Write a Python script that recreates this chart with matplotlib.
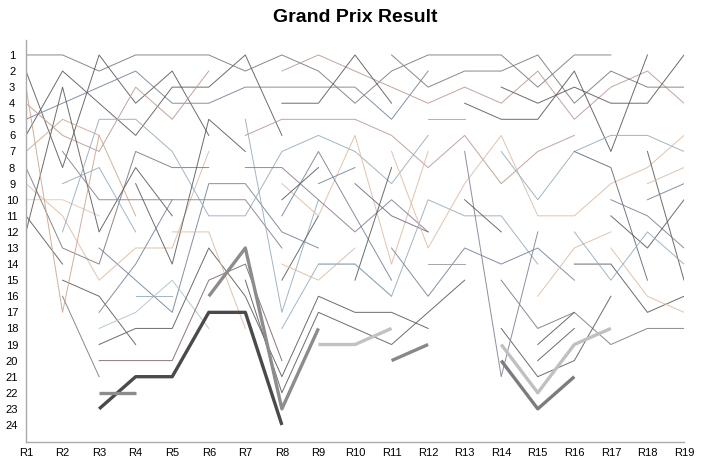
import matplotlib.pyplot as plt
import numpy as np

N = None

races = ['R1', 'R2', 'R3', 'R4', 'R5', 'R6', 'R7', 'R8', 'R9', 'R10',
         'R11', 'R12', 'R13', 'R14', 'R15', 'R16', 'R17', 'R18', 'R19']
ranks = list(range(1, 25))

# finishing position per race, None = did not take part
d01 = [1, 1, 2, 1, 1, 1, 2, 1, 2, 4, 2, 1, 1, 1, 3, 1, 1, N, N]
d02 = [2, 8, 1, 4, 2, 6, N, N, N, N, N, N, N, N, N, N, N, N, N]
d03 = [5, 4, 3, 2, 4, 4, 3, 3, 3, 3, 5, 2, N, N, N, N, N, N, N]
d04 = [6, 2, 4, 6, 3, 3, 1, 6, N, N, N, N, N, N, N, N, N, N, N]
d05 = [4, 6, 7, 3, 5, 2, N, 2, 1, 2, 3, 4, 3, 4, 2, 5, 3, 2, 4]
d06 = [N, N, N, N, N, N, N, 4, 4, 1, 4, N, N, N, N, N, N, N, N]
d07 = [N, N, N, N, N, N, N, N, N, N, 1, 3, 2, 2, 1, 4, 2, 3, 3]
d08 = [N, N, N, N, N, N, N, N, N, N, N, N, 4, 5, 5, 2, 7, 1, N]
d09 = [N, N, N, N, N, N, N, N, N, N, N, N, N, 3, 4, 3, 4, 4, 1]
d10 = [N, N, N, N, N, N, 6, 5, 5, 5, 6, 8, 6, 9, 7, 6, N, N, N]
d11 = [N, N, 13, 15, 17, 9, 9, 12, 13, N, N, N, N, N, N, N, N, N, N]
d12 = [7, 5, 6, 11, N, N, N, N, N, N, N, N, N, N, N, N, N, N, N]
d13 = [9, 11, 15, 13, 13, 7, N, N, N, N, N, N, N, N, N, N, N, N, N]
d14 = [10, 10, 11, N, N, N, N, N, N, N, N, N, N, N, N, N, N, N, N]
d15 = [11, 14, N, N, N, N, N, N, N, N, N, N, N, N, N, N, N, N, N]
d16 = [8, 13, 14, 7, 8, 8, N, N, N, N, N, N, N, N, N, N, N, N, N]
d17 = [12, 3, 12, 8, 11, N, N, N, N, N, N, N, N, N, N, N, N, N, N]
d18 = [N, 12, 5, 5, 7, 11, 11, 7, 6, 7, 9, 6, N, N, N, N, N, N, N]
d19 = [N, 9, 8, 12, N, N, N, N, N, N, N, N, N, N, N, N, N, N, N]
d20 = [N, 7, 10, 10, 10, 10, 10, 13, N, N, N, N, N, N, N, N, N, N, N]
d21 = [N, N, N, 9, 14, 5, 7, N, N, N, N, N, N, N, N, N, N, N, N]
d22 = [N, 15, 16, 19, N, N, N, N, N, N, N, N, N, N, N, N, N, N, N]
d23 = [N, 16, 21, N, N, N, N, N, N, N, N, N, N, N, N, N, N, N, N]
d24 = [3, 17, 6, N, N, N, N, N, N, N, N, N, N, N, N, N, N, N, N]
d26 = [N, N, 17, 14, 10, N, N, N, N, N, N, N, N, N, N, N, N, N, N]
d27 = [N, N, 18, 17, 15, 18, N, N, N, N, N, N, N, N, N, N, N, N, N]
d28 = [N, N, 19, 18, 18, 13, 16, 21, 16, 17, 17, 18, N, N, N, N, N, N, N]
d29 = [N, N, 20, 20, 20, 15, 14, 20, N, N, N, N, N, N, N, N, N, N, N]
d31 = [N, N, N, 16, 16, N, N, N, N, N, N, N, N, N, N, N, N, N, N]
d32 = [N, N, N, N, 12, 12, 18, N, N, N, N, N, N, N, N, N, N, N, N]
d34 = [N, N, N, N, N, N, 15, 22, 17, 18, 19, 17, 15, N, N, N, N, N, N]
d35 = [N, N, N, N, N, N, N, 18, 14, 14, 16, N, N, N, N, N, N, N, N]
d36 = [N, N, N, N, N, N, 5, 17, 10, N, N, N, N, N, N, N, N, N, N]
d37 = [N, N, N, N, N, N, N, 15, 11, N, N, N, N, N, N, N, N, N, N]
d38 = [N, N, N, N, N, N, N, 14, 15, 13, N, N, N, N, N, N, N, N, N]
e01 = [N, N, N, N, N, N, N, 9, 11, 6, 14, 7, N, N, N, N, N, N, N]
e02 = [N, N, N, N, N, N, N, 11, 7, 11, 15, N, N, N, N, N, N, N, N]
e04 = [N, N, N, N, N, N, 8, 8, 10, 12, 10, 12, N, N, N, N, N, N, N]
e05 = [N, N, N, N, N, N, N, N, N, 9, 11, 12, N, N, N, N, N, N, N]
e06 = [N, N, N, N, N, N, N, N, N, 15, 8, N, N, N, N, N, N, N, N]
e07 = [N, N, N, N, N, N, N, N, 14, 14, 16, 10, 11, 11, 14, N, N, N, N]
e08 = [N, N, N, N, N, N, N, N, N, N, 13, 16, 13, 14, 13, 15, N, N, N]
e09 = [N, N, N, N, N, N, N, N, N, N, 7, 13, 9, 6, 11, 11, 9, 8, 6]
e10 = [N, N, N, N, N, N, N, N, N, N, N, N, N, 7, 10, 7, 6, 6, 7]
e11 = [N, N, N, N, N, N, N, N, N, N, N, N, N, N, N, 7, 8, 15, N]
e12 = [N, N, N, N, N, N, N, N, N, N, N, N, N, N, N, N, N, 7, 15]
e13 = [N, N, N, N, N, N, N, N, N, N, N, N, N, N, N, N, N, 9, 8]
e14 = [N, N, N, N, N, N, N, N, N, N, N, N, N, N, N, N, N, 10, 9]
e15 = [N, N, N, N, N, N, N, N, N, N, N, N, N, N, N, N, 10, 11, 13]
e16 = [N, N, N, N, N, N, N, N, N, N, N, N, N, N, N, N, 11, 13, 10]
e17 = [N, N, N, N, N, N, N, N, N, N, N, N, N, N, 16, 13, 12, N, N]
e18 = [N, N, N, N, N, N, N, N, N, N, N, N, N, N, N, 14, 14, 17, 16]
e19 = [N, N, N, N, N, N, N, N, N, N, N, N, N, 15, 18, 17, 19, 18, 18]
e20 = [N, N, N, N, N, N, N, N, N, N, N, N, N, 18, 21, 20, 16, N, N]
e21 = [N, N, N, N, N, N, N, N, N, N, N, N, N, N, 19, 17, N, N, N]
e22 = [N, N, N, N, N, N, N, N, N, N, N, N, N, N, 20, 18, N, N, N]
e23 = [N, N, N, N, N, N, N, N, N, N, N, N, 7, 21, 12, N, N, N, N]
e25 = [N, N, N, N, N, N, N, N, N, N, N, N, N, N, N, N, 13, 16, 17]
e26 = [N, N, N, N, N, N, N, N, N, N, N, N, N, N, N, 12, 15, 12, 14]
e27 = [N, N, N, N, N, N, N, N, N, N, N, 5, 5, N, N, N, N, N, N]
e28 = [N, N, N, N, N, N, N, N, N, N, N, 14, 14, N, N, N, N, N, N]
e29 = [N, N, N, N, N, N, N, N, N, N, N, N, 10, 12, N, N, N, N, N]
e30 = [N, N, N, N, N, N, N, N, 9, 8, N, N, N, N, N, N, N, N, N]
e31 = [N, N, N, N, N, N, N, 10, 8, N, N, N, N, N, N, N, N, N, N]

# highlighted (thick) drivers
t1 = [N, N, 23, 21, 21, 17, 17, 24, N, N, N, N, N, N, N, N, N, N, N]
t2 = [N, N, 22, 22, N, N, N, N, N, N, N, N, N, N, N, N, N, N, N]
t3 = [N, N, N, N, N, 16, 13, 23, 18, N, N, N, N, N, N, N, N, N, N]
t4 = [N, N, N, N, N, N, N, N, 19, 19, 18, N, N, N, N, N, N, N, N]
t5 = [N, N, N, N, N, N, N, N, N, N, 20, 19, N, N, N, N, N, N, N]
t6 = [N, N, N, N, N, N, N, N, N, N, N, N, N, 19, 22, 19, 18, N, N]
t7 = [N, N, N, N, N, N, N, N, N, N, N, N, N, 20, 23, 21, N, N, N]

dark = '#5c5c5c'
grey = '#7c7c7c'
brown = '#bc9a92'
tan = '#ddbca4'
blue = '#96adbd'
slate = '#75849a'
purple = '#8a7c96'

thin = [
    (d01, grey), (d02, dark), (d03, slate), (d04, dark), (d05, brown),
    (d06, dark), (d07, grey), (d08, dark), (d09, dark), (d10, brown),
    (d11, slate), (d12, '#d2a696'), (d13, tan), (d14, '#e4c8b2'), (d15, dark),
    (d16, grey), (d17, dark), (d18, blue), (d19, blue), (d20, purple),
    (d21, dark), (d22, dark), (d23, grey), (d24, '#cca690'), (d26, slate),
    (d27, '#adc3cf'), (d28, dark), (d29, '#806868'), (d31, blue), (d32, tan),
    (d34, dark), (d35, blue), (d36, blue), (d37, dark), (d38, tan),
    (e01, tan), (e02, slate), (e04, purple), (e05, '#746a86'), (e06, dark),
    (e07, blue), (e08, slate), (e09, tan), (e10, blue), (e11, '#626a78'),
    (e12, dark), (e13, tan), (e14, slate), (e15, purple), (e16, dark),
    (e17, tan), (e18, dark), (e19, grey), (e20, dark), (e21, dark),
    (e22, dark), (e23, purple), (e25, tan), (e26, blue), (e27, blue),
    (e28, '#9c9c9c'), (e29, dark), (e30, slate), (e31, dark),
]
thick = [
    (t1, '#4a4a4a'), (t2, '#8c8c8c'), (t3, '#8c8c8c'), (t4, '#c2c2c2'),
    (t5, '#888888'), (t6, '#c0c0c0'), (t7, '#7c7c7c'),
]

plt.rcParams['font.family'] = ['Liberation Sans', 'DejaVu Sans']

fig = plt.figure(figsize=(7.2, 4.69), dpi=100)
ax = fig.add_axes([26 / 720, 1 - 442 / 469, 658 / 720, 402 / 469])

x = np.arange(1, len(races) + 1)


def arr(s):
    return np.array([np.nan if v is None else v for v in s], dtype=float)


for s, c in thin:
    ax.plot(x, arr(s), color=c, lw=0.7, alpha=0.9)
for s, c in thick:
    ax.plot(x, arr(s), color=c, lw=2.4, solid_capstyle='butt')

ax.set_xlim(1, 19)
ax.set_ylim(25.06, 0.07)
ax.set_xticks(x)
ax.set_xticklabels(races, fontsize=8)
ax.set_yticks(ranks)
ax.set_yticklabels([str(r) for r in ranks], fontsize=8)
ax.tick_params(axis='y', length=0, pad=10)
ax.tick_params(axis='x', length=0, pad=4)
for lab in ax.get_yticklabels():
    lab.set_horizontalalignment('center')

for side in ['top', 'right']:
    ax.spines[side].set_visible(False)
for side in ['left', 'bottom']:
    ax.spines[side].set_color('#aaaaaa')
    ax.spines[side].set_linewidth(1.0)

fig.text(0.493, 1 - 17 / 469, 'Grand Prix Result', fontsize=14,
         fontweight='bold', ha='center', va='center')

fig.savefig('out.png', dpi=100)
